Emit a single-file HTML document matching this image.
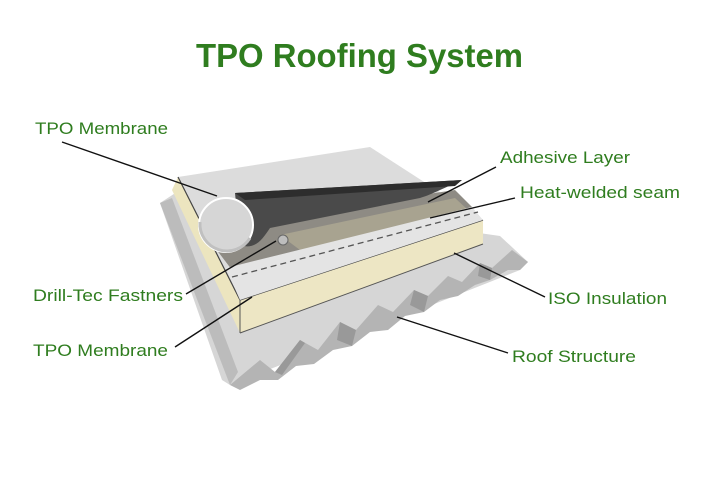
<!DOCTYPE html>
<html><head><meta charset="utf-8"><style>
html,body{margin:0;padding:0;background:#fff;}
svg{display:block;}
text{font-family:"Liberation Sans",sans-serif;fill:#2f7d1f;}
</style></head><body>
<svg width="720" height="477" viewBox="0 0 720 477">
<text x="196" y="67" font-size="33" font-weight="bold" textLength="327" lengthAdjust="spacingAndGlyphs" fill="#1f7a1a">TPO Roofing System</text>

<!-- metal deck -->
<polygon points="160,203 180,190 500,236 528,262 520,270 230,385 222,380" fill="#d6d6d6"/>
<polygon points="160,203 172,198 238,372 230,385" fill="#bcbcbc"/>
<polygon points="230,385 260,360 275,372 300,340 318,350 340,322 356,330 378,305 393,312 414,290 428,296 448,276 462,282 480,263 492,268 512,250 528,262 520,270 508,270 490,280 475,285 458,296 440,300 424,312 405,316 388,330 370,332 352,346 333,350 314,364 296,366 278,380 260,380 240,390" fill="#b4b4b4"/>
<g fill="#999">
<polygon points="275,372 300,340 305,343 282,375"/>
<polygon points="340,322 356,330 352,346 337,340"/>
<polygon points="414,290 428,296 424,312 410,305"/>
<polygon points="480,263 492,268 490,280 478,276"/>
</g>
<!-- insulation -->
<polygon points="178,177 240,300 240,333 172,190" fill="#ece5bf"/>
<polygon points="240,300 483,220 483,244 240,333" fill="#ede6c4"/>
<line x1="240" y1="333" x2="483" y2="244" stroke="#555" stroke-width="1"/>
<line x1="240" y1="300" x2="240" y2="333" stroke="#555" stroke-width="1"/>
<!-- top membrane -->
<polygon points="178,177 370,147 483,220 240,300" fill="#dcdcdc"/>
<line x1="178" y1="177" x2="240" y2="300" stroke="#444" stroke-width="1.2"/>
<line x1="240" y1="300" x2="483" y2="220" stroke="#444" stroke-width="1.2"/>
<!-- exposed adhesive area -->
<polygon points="200,228 455,190 472,207 232,270" fill="#8e8b84"/>
<polygon points="280,235 455,198 468,210 300,250" fill="#a8a390"/>
<!-- lower light band -->
<polygon points="226,268 472,207 483,220 240,300" fill="#e4e4e4"/>
<line x1="232" y1="277" x2="478" y2="212" stroke="#555" stroke-width="1.3" stroke-dasharray="6,4"/>
<circle cx="283" cy="240" r="5" fill="#bdbdbd" stroke="#666"/>
<!-- rolled sheet -->
<path d="M235,193 L462,180 C440,190 430,195 420,198 L270,228 C262,240 255,250 240,245 Z" fill="#4a4a4a"/>
<path d="M235,193 L462,180 L455,186 L245,200 Z" fill="#2d2d2d"/>
<circle cx="226" cy="225" r="27" fill="#d6d6d6" stroke="#fff" stroke-width="2"/>
<path d="M200,222 A27,27 0 0 0 250,238" fill="none" stroke="#c0c0c0" stroke-width="3"/>

<!-- leader lines -->
<g stroke="#111" stroke-width="1.4">
<line x1="62" y1="142" x2="217" y2="196"/>
<line x1="496" y1="167" x2="428" y2="202"/>
<line x1="515" y1="198" x2="430" y2="218"/>
<line x1="186" y1="294" x2="276" y2="241"/>
<line x1="175" y1="347" x2="252" y2="297"/>
<line x1="545" y1="297" x2="454" y2="253"/>
<line x1="508" y1="353" x2="397" y2="317"/>
</g>

<g font-size="17">
<text x="35" y="134" textLength="133" lengthAdjust="spacingAndGlyphs">TPO Membrane</text>
<text x="500" y="163" textLength="130" lengthAdjust="spacingAndGlyphs">Adhesive Layer</text>
<text x="520" y="198" textLength="160" lengthAdjust="spacingAndGlyphs">Heat-welded seam</text>
<text x="33" y="301" textLength="150" lengthAdjust="spacingAndGlyphs">Drill-Tec Fastners</text>
<text x="548" y="304" textLength="119" lengthAdjust="spacingAndGlyphs">ISO Insulation</text>
<text x="33" y="356" textLength="135" lengthAdjust="spacingAndGlyphs">TPO Membrane</text>
<text x="512" y="362" textLength="124" lengthAdjust="spacingAndGlyphs">Roof Structure</text>
</g>
</svg>
</body></html>
